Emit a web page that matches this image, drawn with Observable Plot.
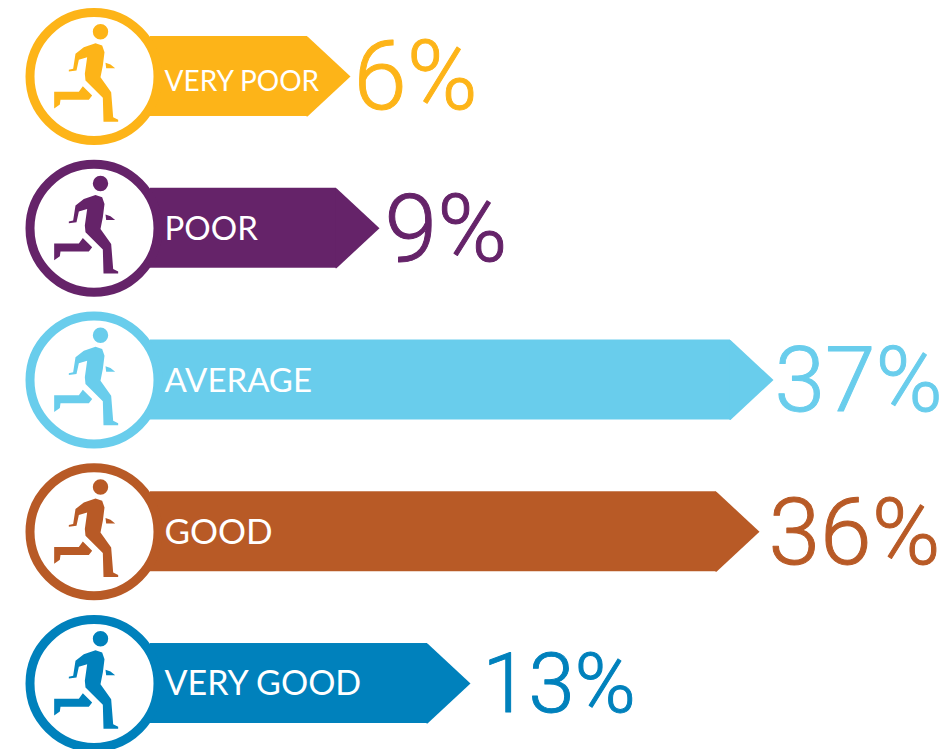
<!DOCTYPE html>
<html><head><meta charset="utf-8">
<style>html,body{margin:0;padding:0;background:#fff}svg{display:block}</style>
<script src="https://cdn.jsdelivr.net/npm/d3@7"></script>
<script src="https://cdn.jsdelivr.net/npm/@observablehq/plot@0.6"></script>
</head><body><div id="chart"></div>
<script>
const categories = ["VERY POOR","POOR","AVERAGE","GOOD","VERY GOOD"];
const percents = [6,9,37,36,13];
const colors = ["#FDB418","#652369","#69CDEC","#B85A26","#0081BC"];
const data = categories.map((category,i)=>({category,percent:percents[i],label:percents[i]+"%"}));

const poly = (ctx,pts,s=1/3,ox=145.5,oy=168)=>{pts.forEach(([x,y],i)=>{const X=(x-ox)*s,Y=(y-oy)*s;i?ctx.lineTo(X,Y):ctx.moveTo(X,Y)});ctx.closePath()};
const runner = {draw(ctx){
  ctx.moveTo(14.2,-44.7);ctx.arc(6.5,-44.7,7.7,0,2*Math.PI);ctx.closePath();
  poly(ctx,[[150,68],[170,75],[177,95],[172,135],[165,170],[197,215],[203,290],[218,298],[218,304],[174,304],[172,232],[120,180],[118,160],[125,110],[100,118],[93,150],[70,153],[70,148],[83,145],[90,100],[115,80]]);
  poly(ctx,[[112,197],[140,225],[130,238],[45,238],[43,252],[26,264],[26,214],[100,214]]);
  poly(ctx,[[180,127],[195,132],[209,143],[182,143]]);
}};
const tip = {draw(ctx){ctx.moveTo(-44,-40);ctx.lineTo(-43,-40);ctx.lineTo(0,0);ctx.lineTo(-43,40);ctx.lineTo(-44,40);ctx.closePath()}};

const chart = Plot.plot({
  width:952,height:749,margin:0,
  style:{background:"#fff"},
  x:{axis:null,type:"linear",domain:[0,6,9,13,36,37],range:[150,350,379,470,759,773]},
  y:{axis:null,domain:categories,range:[36,723],paddingInner:0.473,paddingOuter:0,round:false},
  color:{domain:categories,range:colors},
  marks:[
    Plot.barX(data,{x1:0,x2:"percent",y:"category",fill:"category",insetRight:43}),
    Plot.dot(data,{x:"percent",y:"category",symbol:tip,fill:"category",r:40}),
    Plot.dot(data,{x:()=>0,y:"category",dx:-56.5,r:64,fill:"#fff",stroke:"category",strokeWidth:9}),
    Plot.dot(data,{x:()=>0,y:"category",dx:-56.5,symbol:runner,fill:"category",r:60}),
    // The first label is set smaller and lower in the reference
    ...[[0,6,28],[1,1,33],[2,1,33],[3,1,35],[4,1,34]].map(([i,dy,fontSize])=>
      Plot.text([data[i]],{x:()=>0,y:"category",text:"category",dx:14,dy,fontSize,textAnchor:"start",fill:"#fff",fontFamily:"Lato",fontWeight:400})),
    ...[[0,3,96],[1,5,95],[2,1,91],[3,9,93],[4,12,83]].map(([i,dx,fontSize])=>
      Plot.text([data[i]],{x:"percent",y:"category",text:"label",dx,dy:2,fontSize,textAnchor:"start",fill:"category",stroke:"category",strokeWidth:1,fontFamily:"Roboto",fontWeight:300}))
  ]
});
document.getElementById("chart").appendChild(chart);
</script></body></html>
